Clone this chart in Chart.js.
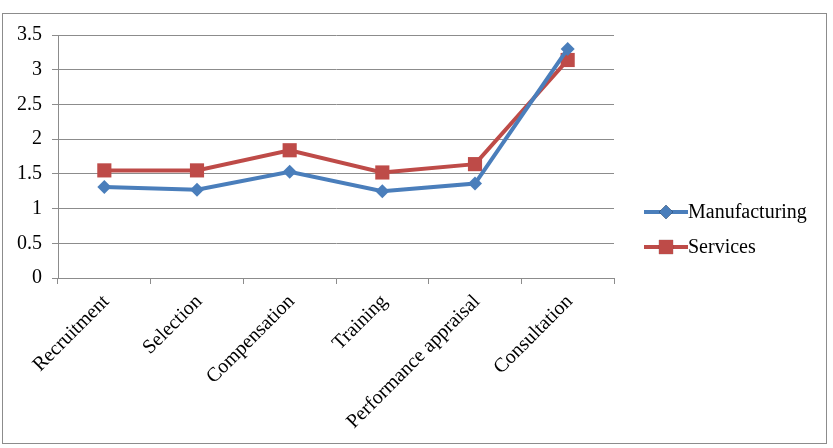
<!DOCTYPE html>
<html>
<head>
<meta charset="utf-8">
<script src="https://cdn.jsdelivr.net/npm/chart.js@4"></script>
<style>
  html, body { margin: 0; padding: 0; background: #fff; }
  #wrap { width: 833px; height: 448px; }
</style>
</head>
<body>
<div id="wrap"><canvas id="chart"></canvas></div>
<script>
var categories = ['Recruitment', 'Selection', 'Compensation', 'Training', 'Performance appraisal', 'Consultation'];
var manufacturing = [1.31, 1.27, 1.53, 1.25, 1.36, 3.30];
var services = [1.55, 1.55, 1.84, 1.52, 1.64, 3.14];
var yTicks = [0, 0.5, 1, 1.5, 2, 2.5, 3, 3.5];

var FONT = 'Liberation Serif';

// outer frame like the office chart border
var framePlugin = {
    id: 'frame',
    beforeDraw: function (chart) {
        var ctx = chart.ctx;
        ctx.save();
        ctx.fillStyle = '#fff';
        ctx.fillRect(0, 0, chart.width, chart.height);
        ctx.strokeStyle = '#8c8c8c';
        ctx.lineWidth = 1;
        ctx.strokeRect(2.5, 13.5, 824, 430);
        ctx.restore();
    }
};

// legend with line + marker, drawn from the datasets
var sideLegend = {
    id: 'sideLegend',
    afterDraw: function (chart) {
        var ctx = chart.ctx;
        var ys = [212, 247];
        ctx.save();
        chart.data.datasets.forEach(function (ds, i) {
            var y = ys[i];
            ctx.strokeStyle = ds.borderColor;
            ctx.lineWidth = ds.borderWidth;
            ctx.beginPath();
            ctx.moveTo(644, y);
            ctx.lineTo(688, y);
            ctx.stroke();
            Chart.helpers.drawPoint(ctx, {
                pointStyle: ds.pointStyle,
                radius: ds.pointRadius,
                borderWidth: 0
            }, 666, y);
            ctx.fillStyle = ds.pointBackgroundColor;
            ctx.fill();
            ctx.fillStyle = '#000';
            ctx.font = '20px "' + FONT + '"';
            ctx.textBaseline = 'middle';
            ctx.textAlign = 'left';
            ctx.fillText(ds.label, 688, y + 1);
        });
        ctx.restore();
    }
};

new Chart(document.getElementById('chart'), {
    type: 'line',
    data: {
        labels: categories,
        datasets: [{
            label: 'Manufacturing',
            data: manufacturing,
            borderColor: '#4a7ebb',
            backgroundColor: '#4a7ebb',
            pointBackgroundColor: '#4a7ebb',
            pointBorderWidth: 0,
            pointStyle: 'rectRot',
            pointRadius: 7,
            borderWidth: 4
        }, {
            label: 'Services',
            data: services,
            borderColor: '#be4b48',
            backgroundColor: '#be4b48',
            pointBackgroundColor: '#be4b48',
            pointBorderWidth: 0,
            pointStyle: 'rect',
            pointRadius: 10,
            borderWidth: 4
        }]
    },
    options: {
        responsive: true,
        maintainAspectRatio: false,
        animation: false,
        layout: { padding: { left: 0, top: 35, right: 219, bottom: 0 } },
        plugins: {
            legend: { display: false },
            tooltip: { enabled: false }
        },
        scales: {
            x: {
                offset: true,
                grid: {
                    offset: true,
                    drawOnChartArea: false,
                    drawTicks: true,
                    tickLength: 6,
                    color: '#8c8c8c'
                },
                border: { color: '#8c8c8c' },
                ticks: {
                    color: '#000',
                    font: { family: FONT, size: 20 },
                    minRotation: 45,
                    maxRotation: 45,
                    autoSkip: false,
                    padding: 6,
                    labelOffset: 2
                },
                afterFit: function (scale) { scale.height = 170; }
            },
            y: {
                min: 0,
                max: 3.5,
                afterBuildTicks: function (scale) {
                    scale.ticks = yTicks.map(function (v) { return { value: v }; });
                },
                grid: {
                    color: '#8c8c8c',
                    tickLength: 6
                },
                border: { color: '#8c8c8c' },
                ticks: {
                    color: '#000',
                    font: { family: FONT, size: 20 },
                    padding: 10,
                    callback: function (v) { return String(v); }
                },
                afterFit: function (scale) { scale.width = 58; }
            }
        }
    },
    plugins: [framePlugin, sideLegend]
});
</script>
</body>
</html>
